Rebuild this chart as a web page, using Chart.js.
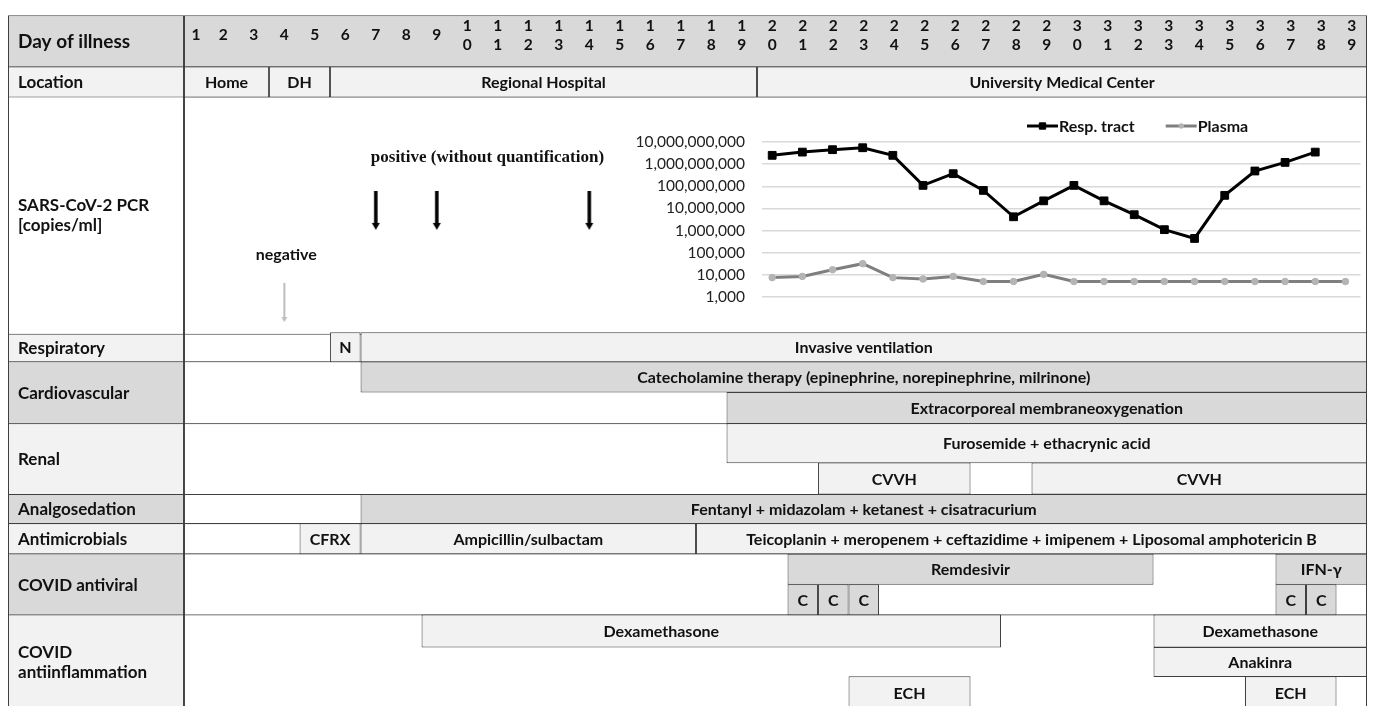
<!DOCTYPE html>
<html>
<head>
<meta charset="utf-8">
<script src="https://cdn.jsdelivr.net/npm/chart.js@4.4.1/dist/chart.umd.min.js"></script>
<style>
  html, body { margin: 0; padding: 0; background: #fff; }
  #wrap { position: relative; width: 1375px; height: 713px; overflow: hidden; }
  #table { position: absolute; left: 0; top: 0; }
  #pcr { position: absolute; left: 600px; top: 92px; }
</style>
</head>
<body>
<div id="wrap">
  <canvas id="table" width="1375" height="713"></canvas>
  <canvas id="pcr" width="767" height="240"></canvas>
</div>
<script>
// ---- data -------------------------------------------------------------
const days = [1, 2, 3, 4, 5, 6, 7, 8, 9, 10, 11, 12, 13, 14, 15, 16, 17, 18, 19, 20,
              21, 22, 23, 24, 25, 26, 27, 28, 29, 30, 31, 32, 33, 34, 35, 36, 37, 38, 39];

// SARS-CoV-2 PCR, copies/ml (quantified from day 20)
const pcrDays   = [20, 21, 22, 23, 24, 25, 26, 27, 28, 29, 30, 31, 32, 33, 34, 35, 36, 37, 38, 39];
const respTract = [2.5e9, 3.5e9, 4.5e9, 5.5e9, 2.5e9, 1.1e8, 3.7e8, 6.5e7, 4.2e6, 2.2e7,
                   1.1e8, 2.2e7, 5.2e6, 1.1e6, 4.4e5, 3.9e7, 4.9e8, 1.2e9, 3.5e9];
const plasma    = [7.5e3, 8.5e3, 1.7e4, 3.2e4, 7.5e3, 6.5e3, 8.5e3, 5e3, 5e3, 1.05e4,
                   5e3, 5e3, 5e3, 5e3, 5e3, 5e3, 5e3, 5e3, 5e3, 5e3];
const pcrTicks  = [1e3, 1e4, 1e5, 1e6, 1e7, 1e8, 1e9, 1e10];
const pcrPositiveDays = [7, 9, 14];
const pcrNegativeDays = [4];

const rowNames = ['Day of illness', 'Location', 'SARS-CoV-2 PCR\n[copies/ml]', 'Respiratory',
                  'Cardiovascular', 'Renal', 'Analgosedation', 'Antimicrobials',
                  'COVID antiviral', 'COVID\nantiinflammation'];

// [from day boundary, to day boundary, text]
const locationCells = [[0, 3, 'Home'], [3, 5, 'DH'], [5, 19, 'Regional Hospital'], [19, 39, 'University Medical Center']];
const respiratoryCells = [[5, 6, 'N'], [6, 39, 'Invasive ventilation']];
const catecholamineCells = [[6, 39, 'Catecholamine therapy (epinephrine, norepinephrine, milrinone)']];
const ecmoCells = [[18, 39, 'Extracorporeal membraneoxygenation']];
const diureticCells = [[18, 39, 'Furosemide + ethacrynic acid']];
const cvvhCells = [[21, 26, 'CVVH'], [28, 39, 'CVVH']];
const sedationCells = [[6, 39, 'Fentanyl + midazolam + ketanest + cisatracurium']];
const antimicrobialCells = [[4, 6, 'CFRX'], [6, 17, 'Ampicillin/sulbactam'],
  [17, 39, 'Teicoplanin + meropenem + ceftazidime + imipenem + Liposomal amphotericin B']];
const antiviralCells = [[20, 32, 'Remdesivir'], [36, 39, 'IFN-γ']];
const antiviralCCells = [[20, 21, 'C'], [21, 22, 'C'], [22, 23, 'C'], [36, 37, 'C'], [37, 38, 'C']];
const dexaCells = [[8, 27, 'Dexamethasone'], [32, 39, 'Dexamethasone']];
const anakinraCells = [[32, 39, 'Anakinra']];
const echCells = [[22, 26, 'ECH'], [35, 38, 'ECH']];

// ---- layout / style ---------------------------------------------------
const GREY = '#d9d9d9';
const LIGHT = '#f2f2f2';
const WHITE = '#ffffff';
const RULE = '#3f3f3f';
const INK = '#111111';
const FONT = 'Lato, "Open Sans", sans-serif';

const TABLE_TOP = 9;
const laneHeights = [[52], [31], [240], [30], [31, 32], [40, 32], [30], [31], [31, 31], [33, 30, 33]];
const rowFills = [GREY, LIGHT, WHITE, LIGHT, GREY, LIGHT, GREY, LIGHT, GREY, LIGHT];
const LABEL_LEFT = -5.56;  // first column, in day units
const FIRST_EDGE = 0.21;   // day 1 column is narrower
const LAST_DAY = 39;
const textNudge = { 'Dexamethasone@8': -50 };

const rows = [];
let yy = TABLE_TOP;
laneHeights.forEach(hs => {
  const top = yy;
  const lanes = [];
  hs.forEach(h => { lanes.push({ top: yy, h, mid: yy + h / 2 }); yy += h; });
  rows.push({ top, h: yy - top, mid: (top + yy) / 2, lanes });
});

const lanes = [
  { row: 1, lane: 0, cells: locationCells, fill: LIGHT },
  { row: 3, lane: 0, cells: respiratoryCells, fill: LIGHT },
  { row: 4, lane: 0, cells: catecholamineCells, fill: GREY },
  { row: 4, lane: 1, cells: ecmoCells, fill: GREY },
  { row: 5, lane: 0, cells: diureticCells, fill: LIGHT },
  { row: 5, lane: 1, cells: cvvhCells, fill: LIGHT },
  { row: 6, lane: 0, cells: sedationCells, fill: GREY },
  { row: 7, lane: 0, cells: antimicrobialCells, fill: LIGHT },
  { row: 8, lane: 0, cells: antiviralCells, fill: GREY },
  { row: 8, lane: 1, cells: antiviralCCells, fill: GREY },
  { row: 9, lane: 0, cells: dexaCells, fill: LIGHT },
  { row: 9, lane: 1, cells: anakinraCells, fill: LIGHT },
  { row: 9, lane: 2, cells: echCells, fill: LIGHT },
];

function cellSet(data, thickness, fill, kind, order) {
  return {
    type: 'bar', indexAxis: 'y', grouped: false, order, kind,
    data,
    barThickness: thickness,
    backgroundColor: fill,
    borderColor: RULE,
    borderWidth: 1,
    borderSkipped: false,
    inflateAmount: 0,
  };
}

function arrowImage(shaft, head, headLen, len, color) {
  const c = document.createElement('canvas');
  c.width = head + 2;
  c.height = len;
  const g = c.getContext('2d');
  const cx = c.width / 2;
  g.fillStyle = color;
  g.fillRect(cx - shaft / 2, 0, shaft, len - headLen + 1);
  g.beginPath();
  g.moveTo(cx - head / 2, len - headLen);
  g.lineTo(cx + head / 2, len - headLen);
  g.lineTo(cx, len);
  g.closePath();
  g.fill();
  return c;
}

const tableText = {
  id: 'tableText',
  afterDraw(chart) {
    const ctx = chart.ctx;
    const xs = chart.scales.x;
    ctx.save();
    ctx.fillStyle = INK;
    ctx.textBaseline = 'middle';
    chart.data.datasets.forEach((ds, di) => {
      if (ds.kind !== 'label' && ds.kind !== 'cell') return;
      chart.getDatasetMeta(di).data.forEach((el, i) => {
        const item = ds.data[i];
        if (!item.text) return;
        const lines = item.text.split('\n');
        const lh = 20;
        const y0 = el.y - (lines.length - 1) * lh / 2;
        const left = Math.min(el.x, el.base);
        if (ds.kind === 'label') {
          ctx.textAlign = 'left';
          ctx.font = `bold ${item.size || 17}px ${FONT}`;
          lines.forEach((t, k) => ctx.fillText(t, left + 10, y0 + k * lh + 1));
        } else {
          ctx.textAlign = 'center';
          ctx.font = `bold 16px ${FONT}`;
          const nudge = textNudge[item.text + '@' + item.from] || 0;
          lines.forEach((t, k) => ctx.fillText(t, (el.x + el.base) / 2 + nudge, y0 + k * lh + 1));
        }
      });
    });

    // day numbers in the header row
    const hdr = rows[0];
    ctx.textAlign = 'center';
    ctx.font = `bold 15.5px ${FONT}`;
    days.forEach(d => {
      const cx = xs.getPixelForValue((Math.max(d - 1, FIRST_EDGE) + d) / 2);
      const s = String(d);
      if (s.length === 1) {
        ctx.fillText(s, cx, hdr.mid);
      } else {
        ctx.fillText(s[0], cx, hdr.mid - 9.5);
        ctx.fillText(s[1], cx, hdr.mid + 10);
      }
    });

    // captions of the PCR arrows
    chart.data.datasets.forEach((ds, di) => {
      if (ds.kind !== 'arrow') return;
      const pts = chart.getDatasetMeta(di).data;
      if (!pts.length) return;
      const top = pts[0].y - ds.arrowLen / 2;
      if (ds.caption === 'positive') {
        ctx.font = 'bold 17px "Liberation Serif", "Times New Roman", serif';
        ctx.textAlign = 'left';
        ctx.fillText('positive (without quantification)', pts[0].x - 5, top - 33);
      } else {
        ctx.font = `bold 16px ${FONT}`;
        ctx.textAlign = 'center';
        ctx.fillText('negative', pts[0].x + 2, top - 28);
      }
    });
    ctx.restore();
  }
};

const pcrLegend = {
  id: 'pcrLegend',
  afterDraw(chart) {
    const ctx = chart.ctx;
    const a = chart.chartArea;
    let x = a.left + 265;
    const y = a.top - 16;
    ctx.save();
    ctx.font = `bold 16px ${FONT}`;
    ctx.textBaseline = 'middle';
    ctx.textAlign = 'left';
    chart.data.datasets.forEach(ds => {
      ctx.strokeStyle = ds.borderColor;
      ctx.lineWidth = ds.borderWidth;
      ctx.beginPath();
      ctx.moveTo(x, y);
      ctx.lineTo(x + 31, y);
      ctx.stroke();
      ctx.fillStyle = ds.pointBackgroundColor;
      ctx.strokeStyle = ds.pointBorderColor;
      ctx.lineWidth = 1;
      Chart.helpers.drawPoint(ctx, { pointStyle: ds.pointStyle, radius: ds.pointRadius - 1, borderWidth: 1, rotation: 0 }, x + 15.5, y);
      ctx.fillStyle = INK;
      ctx.fillText(ds.label, x + 32, y + 1);
      x += 32 + ctx.measureText(ds.label).width + 31;
    });
    ctx.restore();
  }
};

function draw() {
  const datasets = [];
  rows.forEach((r, i) => {
    datasets.push(cellSet([{ x: [FIRST_EDGE, LAST_DAY], y: r.mid, text: '' }], r.h, i === 0 ? GREY : WHITE, 'frame', 3));
    datasets.push(cellSet([{ x: [LABEL_LEFT, FIRST_EDGE], y: r.mid, text: rowNames[i], size: i === 0 ? 19 : 17 }],
      r.h, rowFills[i], 'label', 2));
  });
  lanes.forEach(l => {
    const g = rows[l.row].lanes[l.lane];
    datasets.push(cellSet(l.cells.map(c => ({ x: [Math.max(c[0], FIRST_EDGE), c[1]], y: g.mid, text: c[2], from: c[0] })),
      g.h, l.fill, 'cell', 2));
  });

  const pcrRow = rows[2];
  datasets.push({
    type: 'scatter', order: 1, kind: 'arrow', caption: 'positive', arrowLen: 39,
    data: pcrPositiveDays.map(d => ({ x: d - 0.5, y: pcrRow.top + 115.5 })),
    pointStyle: arrowImage(3.5, 8, 7, 39, '#000'),
    pointRadius: 6,
  });
  datasets.push({
    type: 'scatter', order: 1, kind: 'arrow', caption: 'negative', arrowLen: 39,
    data: pcrNegativeDays.map(d => ({ x: d - 0.5, y: pcrRow.top + 209.5 })),
    pointStyle: arrowImage(2, 6, 5, 39, '#bdbdbd'),
    pointRadius: 6,
  });

  const table = new Chart(document.getElementById('table'), {
    type: 'bar',
    data: { datasets },
    options: {
      responsive: false,
      animation: false,
      devicePixelRatio: 1,
      events: [],
      layout: { padding: { left: 8, right: 8, top: 0, bottom: 0 } },
      plugins: { legend: { display: false }, tooltip: { enabled: false } },
      scales: {
        x: { type: 'linear', min: LABEL_LEFT, max: LAST_DAY, offset: false, display: false, grid: { offset: false } },
        y: { type: 'linear', min: 0, max: 713, reverse: true, offset: false, display: false, grid: { offset: false } },
      }
    },
    plugins: [tableText]
  });

  // PCR chart shares the day scale of the table
  const PCR_AXIS_W = 162;
  const pcrCanvas = document.getElementById('pcr');
  const pxPerDay = table.scales.x.width / (LAST_DAY - LABEL_LEFT);
  const pcrXMin = LAST_DAY - (pcrCanvas.width - PCR_AXIS_W) / pxPerDay;

  new Chart(pcrCanvas, {
    type: 'line',
    data: {
      datasets: [
        {
          label: 'Resp. tract',
          data: respTract.map((v, i) => ({ x: pcrDays[i] - 0.5, y: v })),
          borderColor: '#000000',
          borderWidth: 3,
          pointStyle: 'rect',
          pointRadius: 5.5,
          pointBackgroundColor: '#000000',
          pointBorderColor: '#000000',
          pointBorderWidth: 1,
          tension: 0,
        },
        {
          label: 'Plasma',
          data: plasma.map((v, i) => ({ x: pcrDays[i] - 0.5, y: v })),
          borderColor: '#7f7f7f',
          borderWidth: 3,
          pointStyle: 'circle',
          pointRadius: 3.3,
          pointBackgroundColor: '#b4b4b4',
          pointBorderColor: '#b4b4b4',
          pointBorderWidth: 1,
          tension: 0,
        }
      ]
    },
    options: {
      responsive: false,
      animation: false,
      devicePixelRatio: 1,
      events: [],
      layout: { padding: { top: 50, bottom: 35, left: 0, right: 0 } },
      plugins: { legend: { display: false }, tooltip: { enabled: false } },
      scales: {
        x: { type: 'linear', min: pcrXMin, max: LAST_DAY, display: false },
        y: {
          type: 'logarithmic',
          min: 1e3,
          max: 1e10,
          afterBuildTicks: s => { s.ticks = pcrTicks.map(v => ({ value: v })); },
          afterFit: s => { s.width = PCR_AXIS_W; },
          border: { display: false },
          grid: { color: '#d9d9d9', lineWidth: 1.5, drawTicks: false },
          ticks: {
            padding: 17,
            color: '#222222',
            font: { family: FONT, size: 15.5 },
            callback: v => Number(v).toLocaleString('en-US')
          }
        }
      }
    },
    plugins: [pcrLegend]
  });
}

Promise.all([
  document.fonts.load(`bold 16px ${FONT}`),
  document.fonts.load(`15px ${FONT}`),
  document.fonts.load('bold 17px "Liberation Serif"')
]).then(draw, draw);
</script>
</body>
</html>
